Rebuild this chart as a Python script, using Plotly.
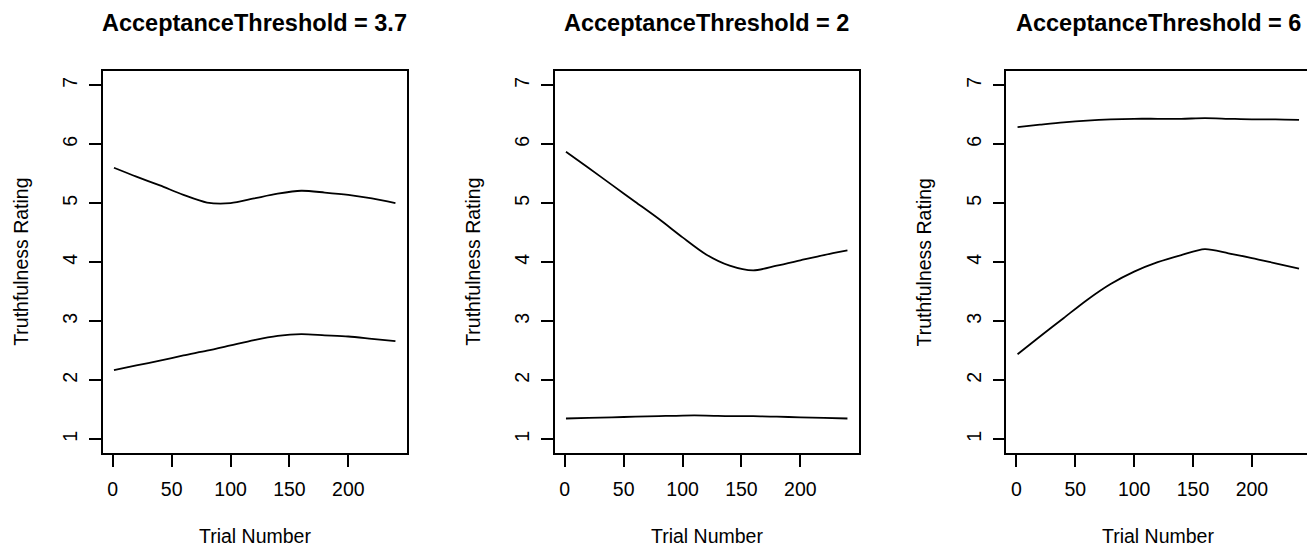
import plotly.graph_objects as go

# ---------------- data ----------------
TRIALS = [1, 20, 40, 60, 80, 100, 120, 140, 160, 180, 200, 220, 240]

TITLES = ["AcceptanceThreshold = 3.7", "AcceptanceThreshold = 2", "AcceptanceThreshold = 6"]

# Panel 1 (threshold 3.7)
p1_upper = [5.60, 5.45, 5.30, 5.14, 5.01, 5.00, 5.08, 5.16, 5.21, 5.18, 5.14, 5.08, 5.00]
p1_lower = [2.17, 2.25, 2.33, 2.42, 2.50, 2.59, 2.68, 2.75, 2.78, 2.76, 2.74, 2.70, 2.66]
# Panel 2 (threshold 2)
p2_upper = [5.87, 5.60, 5.31, 5.02, 4.73, 4.42, 4.13, 3.94, 3.86, 3.94, 4.03, 4.12, 4.20]
p2_lower = [1.35, 1.36, 1.37, 1.38, 1.39, 1.40, 1.40, 1.39, 1.39, 1.38, 1.37, 1.36, 1.35]
# Panel 3 (threshold 6)
p3_upper = [6.29, 6.33, 6.37, 6.40, 6.42, 6.43, 6.43, 6.43, 6.44, 6.43, 6.42, 6.42, 6.41]
p3_lower = [2.44, 2.74, 3.05, 3.36, 3.63, 3.84, 4.00, 4.12, 4.22, 4.15, 4.07, 3.98, 3.89]

X_TICKS = [0, 50, 100, 150, 200]
Y_TICKS = [1, 2, 3, 4, 5, 6, 7]
X_LABEL = "Trial Number"
Y_LABEL = "Truthfulness Rating"

SERIES = [(p1_upper, p1_lower), (p2_upper, p2_lower), (p3_upper, p3_lower)]

# ---------------- layout geometry ----------------
W, H = 1307, 548
FONT = "Liberation Sans, Arial, Helvetica, sans-serif"
box_left = [102.7, 554.7, 1006.3]
box_w = 304.0
box_top, box_bot = 71.0, 453.3
xr = [-8.56, 249.56]
yr = [0.76, 7.24]

fig = go.Figure()
layout = dict(
    width=W, height=H,
    margin=dict(l=0, r=0, t=0, b=0),
    paper_bgcolor="white", plot_bgcolor="white",
    showlegend=False,
    font=dict(family=FONT, size=19.5, color="black"),
)

annotations = []
for i, (up, lo) in enumerate(SERIES):
    n = "" if i == 0 else str(i + 1)
    left = box_left[i]
    right = min(left + box_w, W)
    x_end = xr[0] + (right - left) / box_w * (xr[1] - xr[0])
    for ys in (up, lo):
        fig.add_trace(go.Scatter(
            x=TRIALS, y=ys, mode="lines",
            line=dict(color="black", width=1.8, shape="spline", smoothing=0.8),
            xaxis="x" + n, yaxis="y" + n, hoverinfo="skip"))
    layout["xaxis" + n] = dict(
        domain=[left / W, right / W], range=[xr[0], x_end], anchor="y" + n,
        tickvals=X_TICKS, ticks="outside", ticklen=12, tickwidth=1.5, tickcolor="black",
        ticklabelstandoff=5,
        showline=True, linecolor="black", linewidth=1.6, mirror=True,
        showgrid=False, zeroline=False,
        tickfont=dict(family=FONT, size=19.5, color="black"))
    layout["yaxis" + n] = dict(
        domain=[(H - box_bot) / H, (H - box_top) / H], range=yr, anchor="x" + n,
        tickvals=Y_TICKS, ticks="outside", ticklen=12, tickwidth=1.5, tickcolor="black",
        tickangle=-90, ticklabelstandoff=4,
        showline=True, linecolor="black", linewidth=1.6, mirror=(i < 2),
        showgrid=False, zeroline=False,
        tickfont=dict(family=FONT, size=19.5, color="black"))
    cx = (left + left + box_w) / 2
    annotations.append(dict(
        text="<b>" + TITLES[i] + "</b>", x=cx / W, y=(H - 22.5) / H,
        xref="paper", yref="paper", xanchor="center", yanchor="middle",
        showarrow=False, font=dict(family=FONT, size=23.5, color="black")))
    annotations.append(dict(
        text=X_LABEL, x=cx / W, y=(H - 536) / H,
        xref="paper", yref="paper", xanchor="center", yanchor="middle",
        showarrow=False, font=dict(family=FONT, size=19.5, color="black")))
    annotations.append(dict(
        text=Y_LABEL, x=(left - 82) / W, y=(H - (box_top + box_bot) / 2) / H,
        xref="paper", yref="paper", xanchor="center", yanchor="middle",
        textangle=-90, showarrow=False, font=dict(family=FONT, size=19.5, color="black")))

layout["annotations"] = annotations
fig.update_layout(**layout)
fig.write_html("out.html",
               config={"displayModeBar": False},
               post_script="document.body.style.margin='0';document.body.style.overflow='hidden';")
